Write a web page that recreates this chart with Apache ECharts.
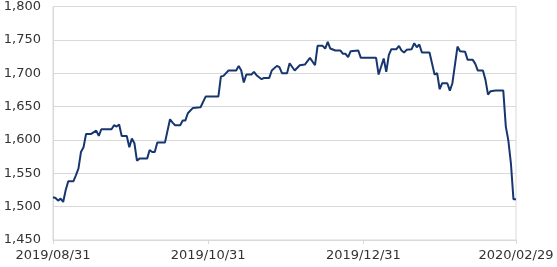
<!DOCTYPE html>
<html><head><meta charset="utf-8">
<script src="https://cdn.jsdelivr.net/npm/echarts@6/dist/echarts.min.js"></script>
<style>html,body{margin:0;padding:0;background:#fff}#c{width:557px;height:267px}</style>
</head><body><div id="c"></div>
<script>
const dates = ['2019-08-31','2019-09-01','2019-09-02','2019-09-03','2019-09-04','2019-09-05','2019-09-06','2019-09-08','2019-09-09','2019-09-10','2019-09-11','2019-09-12','2019-09-13','2019-09-15','2019-09-17','2019-09-18','2019-09-19','2019-09-23','2019-09-24','2019-09-25','2019-09-26','2019-09-27','2019-09-29','2019-09-30','2019-10-01','2019-10-02','2019-10-03','2019-10-04','2019-10-07','2019-10-08','2019-10-09','2019-10-10','2019-10-11','2019-10-14','2019-10-16','2019-10-17','2019-10-18','2019-10-20','2019-10-21','2019-10-22','2019-10-23','2019-10-25','2019-10-28','2019-10-30','2019-11-04','2019-11-05','2019-11-06','2019-11-08','2019-11-11','2019-11-12','2019-11-13','2019-11-14','2019-11-15','2019-11-17','2019-11-18','2019-11-19','2019-11-21','2019-11-22','2019-11-24','2019-11-25','2019-11-27','2019-11-28','2019-11-29','2019-12-01','2019-12-02','2019-12-04','2019-12-06','2019-12-08','2019-12-10','2019-12-12','2019-12-13','2019-12-15','2019-12-16','2019-12-17','2019-12-18','2019-12-20','2019-12-22','2019-12-23','2019-12-24','2019-12-25','2019-12-26','2019-12-29','2019-12-30','2020-01-05','2020-01-06','2020-01-08','2020-01-09','2020-01-10','2020-01-11','2020-01-13','2020-01-14','2020-01-15','2020-01-16','2020-01-17','2020-01-19','2020-01-20','2020-01-21','2020-01-22','2020-01-23','2020-01-26','2020-01-28','2020-01-29','2020-01-30','2020-01-31','2020-02-02','2020-02-03','2020-02-04','2020-02-06','2020-02-07','2020-02-09','2020-02-10','2020-02-12','2020-02-13','2020-02-14','2020-02-16','2020-02-17','2020-02-18','2020-02-19','2020-02-21','2020-02-24','2020-02-25','2020-02-26','2020-02-27','2020-02-28','2020-02-29'];
const values = [1514,1513,1509,1512,1507,1525,1538,1538,1547,1557,1582,1589,1609,1609,1614,1606,1616,1616,1622,1620,1623,1606,1606,1589,1602,1595,1569,1572,1572,1585,1582,1582,1596,1596,1631,1626,1622,1622,1629,1629,1640,1648,1649,1665,1665,1695,1696,1704,1704,1711,1704,1686,1698,1698,1702,1697,1691,1693,1693,1704,1711,1709,1700,1700,1715,1704,1712,1713,1723,1712,1741,1741,1737,1747,1737,1734,1734,1729,1729,1724,1733,1734,1723,1723,1698,1722,1702,1727,1736,1736,1741,1734,1731,1735,1736,1745,1739,1743,1731,1731,1698,1700,1676,1685,1685,1674,1685,1740,1733,1732,1720,1720,1714,1704,1704,1690,1668,1673,1674,1674,1620,1599,1565,1511,1511];
const xTicks = ['2019-08-31','2019-10-31','2019-12-31','2020-02-29'];
const yMin = 1450, yMax = 1800, yStep = 50;

const ts = s => { const p = s.split('-').map(Number); return Date.UTC(p[0], p[1]-1, p[2]); };
const pad = n => (n < 10 ? '0' : '') + n;
const fmtDate = v => { const d = new Date(v); return d.getUTCFullYear() + '/' + pad(d.getUTCMonth()+1) + '/' + pad(d.getUTCDate()); };
const tickTs = xTicks.map(ts);

const chart = echarts.init(document.getElementById('c'), null, {renderer:'canvas'});
const gridCol = '#d9d9d9';
chart.setOption({
  animation: false,
  grid: {left:53, right:41, top:4, bottom:27, show:true, borderColor:gridCol, borderWidth:1, containLabel:false},
  xAxis: {
    type:'value', min:tickTs[0], max:tickTs[tickTs.length-1],
    axisLine:{lineStyle:{color:gridCol}},
    axisTick:{show:true, length:4, lineStyle:{color:gridCol}, customValues:tickTs},
    axisLabel:{customValues:tickTs, color:'#333', fontFamily:'DejaVu Sans', fontSize:13, margin:9,
      formatter: v => fmtDate(v), showMinLabel:true, showMaxLabel:true, hideOverlap:false},
    splitLine:{show:false}
  },
  yAxis: {
    type:'value', min:yMin, max:yMax, interval:yStep,
    axisLine:{show:true, lineStyle:{color:gridCol}},
    axisTick:{show:false},
    axisLabel:{color:'#333', fontFamily:'DejaVu Sans', fontSize:13, margin:12,
      formatter: v => v.toLocaleString('en-US')},
    splitLine:{lineStyle:{color:gridCol, width:1}}
  },
  series: [{
    type:'line', data: dates.map((d,i)=>[ts(d), values[i]]), showSymbol:false,
    lineStyle:{color:'#17366F', width:2}, itemStyle:{color:'#17366F'}
  }]
});
</script></body></html>
